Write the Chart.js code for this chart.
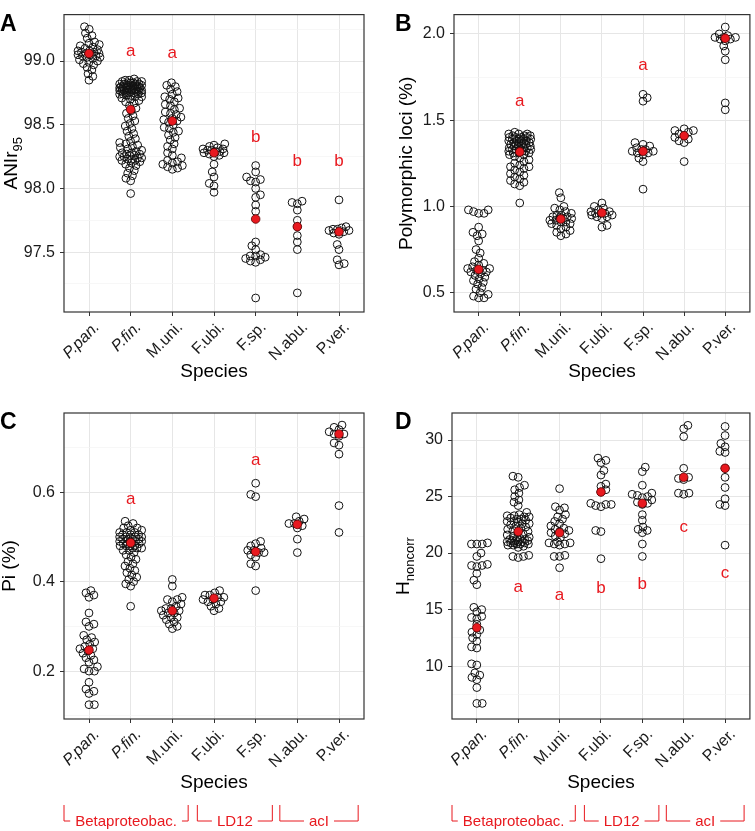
<!DOCTYPE html>
<html>
<head>
<meta charset="utf-8">
<script src="https://cdn.jsdelivr.net/npm/chart.js@4.4.1/dist/chart.umd.min.js"></script>
<style>
  html, body { margin: 0; padding: 0; background: #fff; }
  #wrap { position: relative; width: 755px; height: 831px; }
  canvas { position: absolute; }
</style>
</head>
<body>
<div id="wrap">
  <canvas id="panelA" width="377" height="395" style="left:0px;top:0px"></canvas>
  <canvas id="panelB" width="378" height="395" style="left:377px;top:0px"></canvas>
  <canvas id="panelC" width="377" height="436" style="left:0px;top:395px"></canvas>
  <canvas id="panelD" width="378" height="436" style="left:377px;top:395px"></canvas>
</div>
<script>
const categories = ["P.pan.", "P.fin.", "M.uni.", "F.ubi.", "F.sp.", "N.abu.", "P.ver."];
const italicCats = [true, true, false, false, false, false, false];

const groupNames = ["Betaproteobac.", "LD12", "acI"];
const groupFrom = [0.4, 3.6, 5.58];
const groupTo = [3.38, 5.4, 7.46];

// A: ANIr95
const anirValues = [
  [99.27, 99.25, 99.22, 99.20, 99.18, 99.15, 99.14, 99.13, 99.12, 99.11, 99.10, 99.09, 99.08, 99.08, 99.07, 99.07, 99.06, 99.06,
   99.05, 99.05, 99.04, 99.04, 99.03, 99.03, 99.02, 99.01, 99.00, 98.99, 98.98, 98.97, 98.95, 98.93, 98.90, 98.88, 98.85],
  [98.86, 98.85, 98.85, 98.84, 98.84, 98.84, 98.83, 98.83, 98.83, 98.82, 98.82, 98.82, 98.82, 98.81, 98.81, 98.81, 98.81, 98.80,
   98.80, 98.80, 98.80, 98.80, 98.79, 98.79, 98.79, 98.79, 98.79, 98.78, 98.78, 98.78, 98.78, 98.78, 98.77, 98.77, 98.77, 98.77,
   98.77, 98.76, 98.76, 98.76, 98.76, 98.75, 98.75, 98.75, 98.75, 98.74, 98.74, 98.74, 98.73, 98.73, 98.72, 98.72, 98.71, 98.70,
   98.69, 98.68, 98.67, 98.65, 98.63, 98.61, 98.59, 98.57, 98.55, 98.53, 98.51, 98.49, 98.47, 98.45, 98.43, 98.41, 98.39, 98.37,
   98.36, 98.35, 98.34, 98.33, 98.32, 98.31, 98.30, 98.29, 98.28, 98.28, 98.27, 98.27, 98.26, 98.26, 98.25, 98.25, 98.24, 98.24,
   98.23, 98.23, 98.22, 98.22, 98.21, 98.20, 98.19, 98.18, 98.16, 98.14, 98.12, 98.10, 98.08, 98.06, 97.96],
  [98.83, 98.81, 98.80, 98.78, 98.76, 98.74, 98.72, 98.71, 98.70, 98.68, 98.66, 98.65, 98.63, 98.62, 98.60, 98.59, 98.58, 98.56,
   98.55, 98.54, 98.53, 98.52, 98.50, 98.48, 98.47, 98.45, 98.44, 98.42, 98.40, 98.38, 98.35, 98.33, 98.31, 98.28, 98.26, 98.24,
   98.22, 98.21, 98.20, 98.19, 98.18, 98.17, 98.16, 98.15],
  [98.35, 98.34, 98.33, 98.32, 98.31, 98.31, 98.30, 98.30, 98.29, 98.29, 98.28, 98.28, 98.27, 98.26, 98.25, 98.19, 98.13, 98.09,
   98.04, 98.02, 97.97],
  [98.18, 98.13, 98.09, 98.07, 98.06, 98.05, 98.00, 97.95, 97.93, 97.87, 97.82, 97.58, 97.55, 97.52, 97.48, 97.47, 97.47, 97.46,
   97.45, 97.44, 97.43, 97.42, 97.14],
  [97.90, 97.89, 97.88, 97.83, 97.75, 97.70, 97.63, 97.58, 97.52, 97.18],
  [97.91, 97.70, 97.69, 97.68, 97.68, 97.67, 97.67, 97.66, 97.65, 97.64, 97.56, 97.52, 97.44, 97.41, 97.40]
];
const anirMeans = [99.06, 98.62, 98.53, 98.28, 97.76, 97.70, 97.66];
const anirLetters = ["", "a", "a", "", "b", "b", "b"];
const anirLetterY = [null, 99.08, 99.06, null, 98.40, 98.21, 98.21];
const anirMajor = [97.5, 98.0, 98.5, 99.0];
const anirMinor = [97.25, 97.75, 98.25, 98.75, 99.25];

// B: polymorphic loci (%)
const polyValues = [
  [0.98, 0.98, 0.97, 0.96, 0.96, 0.88, 0.85, 0.84, 0.83, 0.80, 0.75, 0.73, 0.70, 0.68, 0.67, 0.66, 0.65, 0.64, 0.64, 0.63, 0.63,
   0.62, 0.62, 0.61, 0.60, 0.59, 0.58, 0.57, 0.56, 0.55, 0.53, 0.52, 0.50, 0.49, 0.48, 0.47, 0.47],
  [1.43, 1.42, 1.42, 1.42, 1.41, 1.41, 1.41, 1.40, 1.40, 1.40, 1.40, 1.39, 1.39, 1.39, 1.39, 1.38, 1.38, 1.38, 1.38, 1.37, 1.37,
   1.37, 1.37, 1.36, 1.36, 1.36, 1.36, 1.35, 1.35, 1.35, 1.34, 1.34, 1.34, 1.33, 1.33, 1.33, 1.33, 1.32, 1.32, 1.32, 1.31, 1.31,
   1.31, 1.30, 1.30, 1.29, 1.28, 1.27, 1.26, 1.25, 1.24, 1.23, 1.23, 1.22, 1.21, 1.20, 1.19, 1.18, 1.17, 1.16, 1.15, 1.14, 1.13,
   1.12, 1.02],
  [1.08, 1.05, 1.00, 0.99, 0.98, 0.97, 0.96, 0.95, 0.95, 0.94, 0.94, 0.93, 0.93, 0.93, 0.92, 0.92, 0.91, 0.91, 0.90, 0.90, 0.89,
   0.88, 0.87, 0.86, 0.85, 0.84, 0.83],
  [1.02, 1.00, 0.99, 0.98, 0.97, 0.97, 0.96, 0.96, 0.96, 0.95, 0.95, 0.94, 0.94, 0.93, 0.89, 0.88],
  [1.65, 1.63, 1.61, 1.37, 1.36, 1.35, 1.34, 1.33, 1.33, 1.32, 1.32, 1.31, 1.31, 1.30, 1.28, 1.26, 1.10],
  [1.45, 1.44, 1.44, 1.43, 1.42, 1.41, 1.40, 1.39, 1.38, 1.37, 1.26],
  [2.04, 2.00, 1.99, 1.98, 1.98, 1.98, 1.97, 1.97, 1.96, 1.93, 1.90, 1.85, 1.60, 1.56]
];
const polyMeans = [0.635, 1.316, 0.927, 0.963, 1.32, 1.41, 1.975];
const polyLetters = ["", "a", "", "", "a", "", ""];
const polyLetterY = [null, 1.607, null, null, 1.82, null, null];
const polyMajor = [0.5, 1.0, 1.5, 2.0];
const polyMinor = [0.75, 1.25, 1.75];

// C: Pi (%)
const piValues = [
  [0.38, 0.375, 0.37, 0.365, 0.33, 0.31, 0.305, 0.30, 0.28, 0.275, 0.27, 0.265, 0.26, 0.255, 0.25, 0.25, 0.245, 0.24, 0.235,
   0.23, 0.225, 0.22, 0.21, 0.205, 0.20, 0.20, 0.175, 0.16, 0.155, 0.15, 0.125, 0.125],
  [0.535, 0.53, 0.525, 0.52, 0.52, 0.515, 0.515, 0.51, 0.51, 0.51, 0.505, 0.505, 0.505, 0.50, 0.50, 0.50, 0.50, 0.495, 0.495,
   0.495, 0.495, 0.49, 0.49, 0.49, 0.49, 0.49, 0.485, 0.485, 0.485, 0.485, 0.48, 0.48, 0.48, 0.48, 0.475, 0.475, 0.475, 0.47,
   0.47, 0.465, 0.46, 0.455, 0.45, 0.445, 0.44, 0.435, 0.43, 0.425, 0.42, 0.415, 0.41, 0.405, 0.40, 0.395, 0.39, 0.345],
  [0.405, 0.39, 0.365, 0.36, 0.36, 0.355, 0.35, 0.345, 0.34, 0.34, 0.335, 0.335, 0.33, 0.33, 0.325, 0.32, 0.32, 0.315, 0.31,
   0.305, 0.30, 0.295],
  [0.38, 0.375, 0.37, 0.37, 0.365, 0.365, 0.36, 0.36, 0.355, 0.355, 0.35, 0.345, 0.34, 0.335],
  [0.62, 0.595, 0.59, 0.49, 0.485, 0.48, 0.475, 0.47, 0.47, 0.465, 0.465, 0.46, 0.455, 0.44, 0.435, 0.38],
  [0.545, 0.54, 0.535, 0.53, 0.53, 0.525, 0.52, 0.495, 0.465],
  [0.75, 0.745, 0.74, 0.735, 0.73, 0.73, 0.725, 0.71, 0.705, 0.685, 0.57, 0.51]
];
const piMeans = [0.247, 0.487, 0.335, 0.363, 0.467, 0.528, 0.730];
const piLetters = ["", "a", "", "", "a", "", ""];
const piLetterY = [null, 0.584, null, null, 0.672, null, null];
const piMajor = [0.2, 0.4, 0.6];
const piMinor = [0.1, 0.3, 0.5, 0.7];

// D: H noncorr
const hValues = [
  [20.9, 20.8, 20.8, 20.8, 20.0, 19.7, 19.0, 18.9, 18.9, 18.8, 18.2, 17.6, 17.2, 15.2, 15.0, 14.8, 14.4, 14.3, 14.2, 13.7, 13.2,
   13.0, 12.8, 12.5, 12.2, 11.7, 11.6, 10.2, 10.1, 9.4, 9.2, 9.0, 8.8, 8.1, 6.7, 6.7],
  [26.8, 26.7, 26.0, 25.8, 25.6, 25.3, 25.0, 24.7, 24.5, 24.2, 23.6, 23.4, 23.3, 23.3, 23.2, 23.2, 23.1, 23.0, 23.0, 22.9,
   22.8, 22.8, 22.7, 22.6, 22.6, 22.5, 22.4, 22.3, 22.2, 22.1, 22.0, 21.9, 21.8, 21.7, 21.6, 21.5, 21.4, 21.3, 21.3, 21.2, 21.2,
   21.1, 21.1, 21.1, 21.0, 21.0, 21.0, 20.9, 20.9, 20.9, 20.8, 20.8, 20.8, 20.7, 20.7, 20.6, 20.5, 19.8, 19.7, 19.7, 19.6],
  [25.7, 24.1, 24.0, 23.8, 23.4, 23.2, 23.0, 22.8, 22.6, 22.4, 22.2, 22.1, 22.0, 21.9, 21.8, 21.7, 21.5, 21.4, 21.0, 20.9, 20.9,
   20.8, 20.8, 20.7, 19.8, 19.7, 19.7, 18.7],
  [28.4, 28.2, 28.0, 27.3, 26.9, 26.1, 25.9, 25.6, 25.4, 24.4, 24.3, 24.3, 24.2, 24.1, 22.0, 21.9, 19.5],
  [27.6, 27.2, 26.0, 25.3, 25.2, 25.1, 25.0, 24.9, 24.7, 24.5, 24.4, 24.3, 23.4, 22.9, 22.3, 22.1, 22.0, 21.8, 20.8, 19.7],
  [31.3, 31.0, 30.3, 27.5, 26.7, 26.6, 26.5, 25.3, 25.3, 25.2],
  [31.2, 30.4, 29.7, 29.4, 29.0, 28.9, 27.5, 26.7, 25.8, 24.8, 24.3, 24.2, 20.7]
];
const hMeans = [13.4, 21.9, 21.8, 25.4, 24.4, 26.7, 27.5];
const hLetters = ["", "a", "a", "b", "b", "c", "c"];
const hLetterY = [null, 17.0, 16.3, 16.9, 17.2, 22.3, 18.2];
const hMajor = [10, 15, 20, 25, 30];
const hMinor = [7.5, 12.5, 17.5, 22.5, 27.5];

const RED = "#e8191f";
const FONT = "'Liberation Sans', Arial, Helvetica, sans-serif";

// simple beeswarm: place each point as close to the centre as possible, crowd inside a band
function swarm(py, d, maxOff) {
  const idx = py.map((_, i) => i).sort((a, b) => py[b] - py[a]);
  const placed = [];
  const off = new Array(py.length).fill(0);
  let flip = 1;
  idx.forEach((i) => {
    const y = py[i];
    const near = placed.filter((p) => Math.abs(p.y - y) < d);
    const blocked = near.map((p) => {
      const w = Math.sqrt(d * d - (p.y - y) * (p.y - y));
      return [p.x - w, p.x + w];
    });
    const cands = [0];
    blocked.forEach(([a, b]) => cands.push(a, b));
    cands.sort((a, b) => Math.abs(a) - Math.abs(b) || (a - b) * flip);
    let best = cands.find((c) => blocked.every(([a, b]) => c <= a + 1e-6 || c >= b - 1e-6));
    if (best === undefined || Math.abs(best) > maxOff) {
      let bestScore = -Infinity;
      for (let c = -maxOff; c <= maxOff; c += 0.5) {
        const s = near.reduce((m, p) => Math.min(m, Math.hypot(p.x - c, p.y - y)), Infinity) - 0.02 * Math.abs(c);
        if (s > bestScore) { bestScore = s; best = c; }
      }
    }
    flip = -flip;
    off[i] = best;
    placed.push({ x: best, y });
  });
  return off;
}

function makePanel(id, o) {
  const el = document.getElementById(id);
  const isMajor = (v) => o.major.includes(v);

  const decor = {
    id: "decor",
    afterDraw(chart) {
      const { ctx, chartArea: a } = chart;
      const xs = chart.scales.x, ys = chart.scales.y;
      ctx.save();
      // panel border
      ctx.strokeStyle = "#333";
      ctx.lineWidth = 1.2;
      ctx.strokeRect(a.left, a.top, a.right - a.left, a.bottom - a.top);

      // significance letters
      ctx.fillStyle = RED;
      ctx.font = "17px " + FONT;
      ctx.textAlign = "center";
      ctx.textBaseline = "middle";
      o.letters.forEach((t, i) => {
        if (!t) return;
        ctx.fillText(t, xs.getPixelForValue(i + 1), ys.getPixelForValue(o.letterY[i]));
      });

      // panel letter
      ctx.fillStyle = "#000";
      ctx.font = "bold 23px " + FONT;
      ctx.textAlign = "left";
      ctx.textBaseline = "alphabetic";
      ctx.fillText(o.panel, o.panelX, a.top + 16);

      // x title
      ctx.font = "19px " + FONT;
      ctx.textAlign = "center";
      ctx.textBaseline = "middle";
      ctx.fillText("Species", (a.left + a.right) / 2, o.xTitleY);

      // y title, with optional subscript
      ctx.translate(o.yTitleX, (a.top + a.bottom) / 2);
      ctx.rotate(-Math.PI / 2);
      ctx.font = "19px " + FONT;
      const w1 = ctx.measureText(o.yTitle).width;
      ctx.font = "13px " + FONT;
      const w2 = o.yTitleSub ? ctx.measureText(o.yTitleSub).width : 0;
      ctx.textAlign = "left";
      ctx.font = "19px " + FONT;
      ctx.fillText(o.yTitle, -(w1 + w2) / 2, 0);
      if (o.yTitleSub) {
        ctx.font = "13px " + FONT;
        ctx.fillText(o.yTitleSub, -(w1 + w2) / 2 + w1, 6);
      }
      ctx.setTransform(1, 0, 0, 1, 0, 0);

      // taxon brackets
      if (o.brackets) {
        ctx.strokeStyle = RED;
        ctx.fillStyle = RED;
        ctx.lineWidth = 1;
        ctx.font = "15px " + FONT;
        ctx.textAlign = "center";
        ctx.textBaseline = "middle";
        const yt = 410, yb = 426;
        groupNames.forEach((name, g) => {
          const xl = xs.getPixelForValue(groupFrom[g]);
          const xr = xs.getPixelForValue(groupTo[g]);
          const xm = (xl + xr) / 2;
          const tw = ctx.measureText(name).width;
          ctx.beginPath();
          ctx.moveTo(xl, yt); ctx.lineTo(xl, yb); ctx.lineTo(xm - tw / 2 - 5, yb);
          ctx.moveTo(xm + tw / 2 + 5, yb); ctx.lineTo(xr, yb); ctx.lineTo(xr, yt);
          ctx.stroke();
          ctx.fillText(name, xm, yb + 1);
        });
      }
      ctx.restore();
    }
  };

  const chart = new Chart(el, {
    type: "scatter",
    data: {
      datasets: [
        {
          data: o.means.map((m, i) => ({ x: i + 1, y: m })),
          pointRadius: 4.3,
          pointBackgroundColor: RED,
          pointBorderColor: "#5a0000",
          pointBorderWidth: 0.8,
          order: 0
        },
        {
          data: [],
          pointRadius: 3.9,
          pointBackgroundColor: "rgba(0,0,0,0)",
          pointBorderColor: "#111",
          pointBorderWidth: 1,
          order: 1
        }
      ]
    },
    options: {
      responsive: false,
      animation: false,
      events: [],
      layout: { padding: { top: o.padTop, right: o.padRight, left: 0, bottom: 0 } },
      plugins: { legend: { display: false }, tooltip: { enabled: false } },
      scales: {
        x: {
          type: "linear",
          min: 0.4,
          max: 7.6,
          afterBuildTicks: (s) => { s.ticks = categories.map((c, i) => ({ value: i + 1 })); },
          afterFit: (s) => { s.height = o.xAxisHeight; },
          ticks: {
            autoSkip: false,
            minRotation: 45,
            maxRotation: 45,
            padding: 2,
            labelOffset: 8,
            color: "#1a1a1a",
            font: (c) => ({ family: FONT, size: 16, style: italicCats[c.index] ? "italic" : "normal" }),
            callback: (v, i) => categories[i]
          },
          grid: { color: "#e6e6e6", lineWidth: 1, tickLength: 4, tickColor: "#333" },
          border: { display: false }
        },
        y: {
          type: "linear",
          min: o.yMin,
          max: o.yMax,
          afterBuildTicks: (s) => {
            s.ticks = o.major.concat(o.minor).sort((a, b) => a - b).map((v) => ({ value: v }));
          },
          afterFit: (s) => { s.width = o.yAxisWidth; },
          ticks: {
            autoSkip: false,
            padding: 5,
            color: "#1a1a1a",
            font: { family: FONT, size: 16 },
            callback: (v) => (isMajor(v) ? v.toFixed(o.decimals) : "")
          },
          grid: {
            color: (c) => (isMajor(c.tick.value) ? "#e6e6e6" : "#f3f3f3"),
            lineWidth: (c) => (isMajor(c.tick.value) ? 1 : 0.7),
            tickLength: 4,
            tickColor: (c) => (isMajor(c.tick.value) ? "#333" : "rgba(0,0,0,0)")
          },
          border: { display: false }
        }
      }
    },
    plugins: [decor]
  });

  const xs = chart.scales.x, ys = chart.scales.y;
  const unit = xs.getPixelForValue(2) - xs.getPixelForValue(1);
  const pts = [];
  o.values.forEach((vals, i) => {
    const off = swarm(vals.map((v) => ys.getPixelForValue(v)), 5.4, 11);
    vals.forEach((v, k) => pts.push({ x: i + 1 + off[k] / unit, y: v }));
  });
  chart.data.datasets[1].data = pts;
  chart.update("none");
  return chart;
}

makePanel("panelA", {
  panel: "A", panelX: 0, values: anirValues, means: anirMeans, letters: anirLetters, letterY: anirLetterY,
  major: anirMajor, minor: anirMinor, decimals: 1, yMin: 97.03, yMax: 99.365,
  yTitle: "ANIr", yTitleSub: "95", yTitleX: 12, xTitleY: 372,
  padTop: 5, padRight: 13, yAxisWidth: 64, xAxisHeight: 83, brackets: false
});
makePanel("panelB", {
  panel: "B", panelX: 18, values: polyValues, means: polyMeans, letters: polyLetters, letterY: polyLetterY,
  major: polyMajor, minor: polyMinor, decimals: 1, yMin: 0.388, yMax: 2.112,
  yTitle: "Polymorphic loci (%)", yTitleSub: "", yTitleX: 30, xTitleY: 372,
  padTop: 5, padRight: 1, yAxisWidth: 77, xAxisHeight: 83, brackets: false
});
makePanel("panelC", {
  panel: "C", panelX: 0, values: piValues, means: piMeans, letters: piLetters, letterY: piLetterY,
  major: piMajor, minor: piMinor, decimals: 1, yMin: 0.093, yMax: 0.777,
  yTitle: "Pi (%)", yTitleSub: "", yTitleX: 10, xTitleY: 388,
  padTop: 18, padRight: 13, yAxisWidth: 64, xAxisHeight: 112, brackets: true
});
makePanel("panelD", {
  panel: "D", panelX: 18, values: hValues, means: hMeans, letters: hLetters, letterY: hLetterY,
  major: hMajor, minor: hMinor, decimals: 0, yMin: 5.32, yMax: 32.39,
  yTitle: "H", yTitleSub: "noncorr", yTitleX: 27, xTitleY: 388,
  padTop: 18, padRight: 1, yAxisWidth: 75, xAxisHeight: 112, brackets: true
});
</script>
</body>
</html>
